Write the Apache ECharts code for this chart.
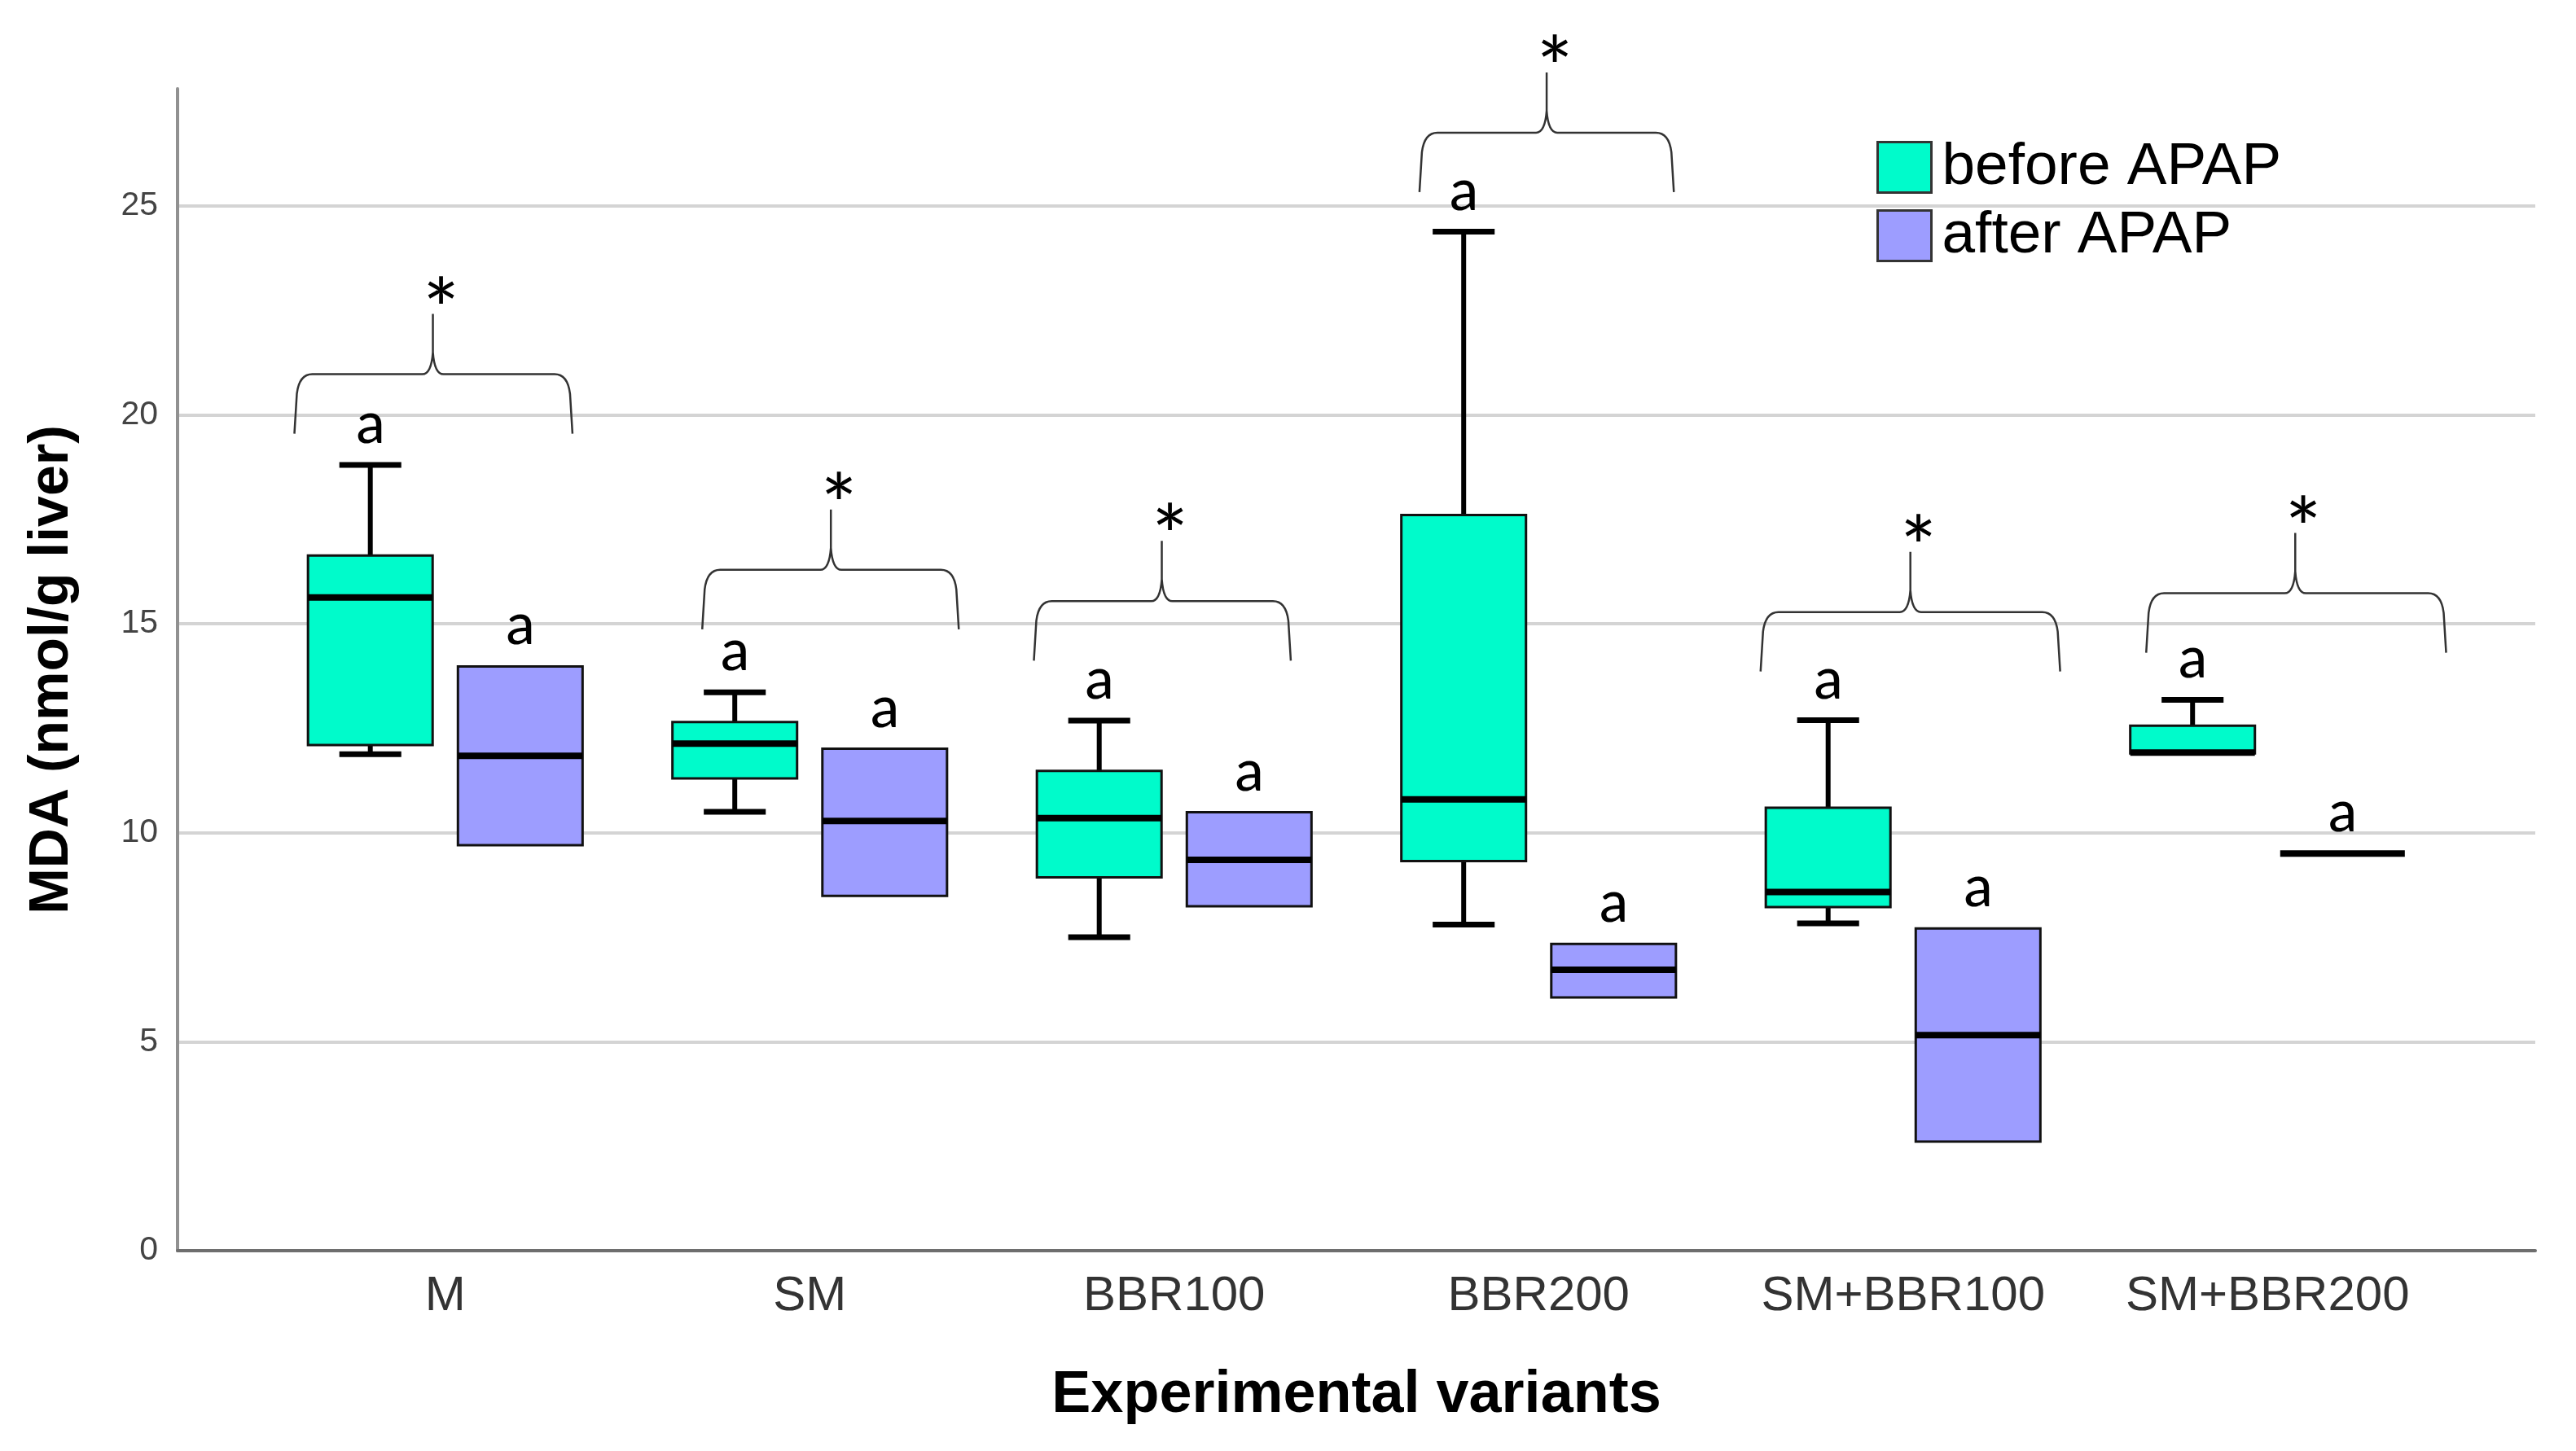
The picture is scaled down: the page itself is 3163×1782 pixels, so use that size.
<!DOCTYPE html>
<html>
<head>
<meta charset="utf-8">
<script src="https://cdn.jsdelivr.net/npm/echarts@6/dist/echarts.min.js"></script>
<style>
html,body{margin:0;padding:0;background:#fff;}
#chart{width:3163px;height:1782px;}
</style>
</head>
<body>
<div id="chart"></div>
<script>
// ---------- data ----------
const categories = ['M', 'SM', 'BBR100', 'BBR200', 'SM+BBR100', 'SM+BBR200'];
const seriesNames = ['before APAP', 'after APAP'];

// before APAP: min, Q1, median, Q3, max
const beforeMin    = [11.88, 10.50, 7.50, 7.80, 7.83, 11.90];
const beforeQ1     = [12.10, 11.30, 8.93, 9.32, 8.22, 11.90];
const beforeMedian = [15.63, 12.13, 10.35, 10.80, 8.58, 11.92];
const beforeQ3     = [16.63, 12.65, 11.48, 17.60, 10.60, 12.56];
const beforeMax    = [18.80, 13.36, 12.68, 24.38, 12.69, 13.18];

// after APAP: min, Q1, median, Q3, max
const afterMin    = [9.70, 8.49, 8.24, 6.06, 2.61, 9.50];
const afterQ1     = [9.70, 8.49, 8.24, 6.06, 2.61, 9.50];
const afterMedian = [11.84, 10.28, 9.35, 6.72, 5.16, 9.50];
const afterQ3     = [13.98, 12.01, 10.49, 7.34, 7.71, 9.50];
const afterMax    = [13.98, 12.01, 10.49, 7.34, 7.71, 9.50];

// significance letters above each box
const lettersBefore = ['a', 'a', 'a', 'a', 'a', 'a'];
const lettersAfter  = ['a', 'a', 'a', 'a', 'a', 'a'];

// brace annotations (level in MDA units; ends/tip relative to category, in band units)
const braceLevel = [20.97, 16.29, 15.54, 26.75, 15.28, 15.73];
const braceFrom  = [-0.414, -0.295, -0.385, -0.327, -0.391, -0.333];
const braceTo    = [0.349, 0.409, 0.320, 0.371, 0.431, 0.490];
const braceTip   = [-0.034, 0.058, -0.034, 0.022, 0.020, 0.076];
const braceMark  = ['*', '*', '*', '*', '*', '*'];

const yTicks = [0, 5, 10, 15, 20, 25];

// ---------- styling constants ----------
const BEFORE_COLOR = '#00FBCB';
const AFTER_COLOR = '#9D9DFF';
const BOX_OFFSET = 0.2057;
const BOX_W = 0.342;
const CAP_W = 0.170;
const ANNOT_FONT = 'Carlito, Lato, "Open Sans", sans-serif';
const AXIS_FONT = '"Liberation Sans", Arial, sans-serif';
const Y_MAX = 27.8;

function boxData(mins, q1s, meds, q3s, maxs) {
  return categories.map((c, i) => [i, mins[i], q1s[i], meds[i], q3s[i], maxs[i]]);
}

function boxRenderer(side, fill, letters) {
  return function (params, api) {
    const cat = api.value(0);
    const band = api.size([1, 0])[0];
    const cx = api.coord([cat, 0])[0] + side * BOX_OFFSET * band;
    const half = BOX_W * band / 2;
    const capHalf = CAP_W * band / 2;
    const y = v => api.coord([cat, v])[1];
    const vMin = api.value(1), q1 = api.value(2), med = api.value(3), q3 = api.value(4), vMax = api.value(5);
    const children = [];
    if (vMax > q3 + 1e-6) {
      children.push({type: 'line', shape: {x1: cx, y1: y(q3), x2: cx, y2: y(vMax)}, style: {stroke: '#000', lineWidth: 6}});
      children.push({type: 'line', shape: {x1: cx - capHalf, y1: y(vMax), x2: cx + capHalf, y2: y(vMax)}, style: {stroke: '#000', lineWidth: 7}});
    }
    if (vMin < q1 - 1e-6) {
      children.push({type: 'line', shape: {x1: cx, y1: y(q1), x2: cx, y2: y(vMin)}, style: {stroke: '#000', lineWidth: 6}});
      children.push({type: 'line', shape: {x1: cx - capHalf, y1: y(vMin), x2: cx + capHalf, y2: y(vMin)}, style: {stroke: '#000', lineWidth: 7}});
    }
    if (q3 > q1 + 1e-6) {
      children.push({type: 'rect', shape: {x: cx - half, y: y(q3), width: 2 * half, height: y(q1) - y(q3)},
        style: {fill: fill, stroke: '#111', lineWidth: 3}});
    }
    children.push({type: 'line', shape: {x1: cx - half, y1: y(med), x2: cx + half, y2: y(med)}, style: {stroke: '#000', lineWidth: 8}});
    children.push({type: 'text', x: cx, y: y(vMax) - 46,
      style: {text: letters[params.dataIndex], fontSize: 76, fontFamily: ANNOT_FONT, fill: '#000',
        align: 'center', verticalAlign: 'middle', textAlign: 'center', textVerticalAlign: 'middle'}});
    return {type: 'group', children: children};
  };
}

function braceRenderer(params, api) {
  const cat = api.value(0);
  const band = api.size([1, 0])[0];
  const c = api.coord([cat, api.value(1)]);
  const cx = c[0], yl = c[1];
  const xl = cx + api.value(2) * band;
  const xr = cx + api.value(3) * band;
  const xt = cx + api.value(4) * band;
  const yEnd = yl + 73, yTip = yl - 74;
  const d = [
    'M', xl, yEnd,
    'L', xl + 3, yl + 24,
    'Q', xl + 6, yl, xl + 22, yl,
    'L', xt - 13, yl,
    'Q', xt - 2, yl, xt, yl - 27,
    'L', xt, yTip,
    'M', xt, yl - 27,
    'Q', xt + 2, yl, xt + 13, yl,
    'L', xr - 22, yl,
    'Q', xr - 6, yl, xr - 3, yl + 24,
    'L', xr, yEnd
  ].join(' ');
  return {type: 'group', children: [
    {type: 'path', shape: {pathData: d}, style: {fill: 'none', stroke: '#333', lineWidth: 2.5}},
    {type: 'text', x: xt + 10, y: yTip + 4,
      style: {text: braceMark[params.dataIndex], fontSize: 112, fontFamily: ANNOT_FONT, fill: '#000',
        align: 'center', verticalAlign: 'middle', textAlign: 'center', textVerticalAlign: 'middle'}}
  ]};
}

const chart = echarts.init(document.getElementById('chart'), null, {renderer: 'canvas'});
chart.setOption({
  animation: false,
  backgroundColor: '#fff',
  legend: {
    orient: 'vertical', left: 2304, top: 169, padding: 0,
    itemWidth: 66, itemHeight: 62, itemGap: 11, icon: 'rect',
    textStyle: {fontSize: 73, fontFamily: AXIS_FONT, color: '#000', padding: [0, 0, 0, 8]},
    data: [
      {name: seriesNames[0], itemStyle: {color: BEFORE_COLOR, borderColor: '#333', borderWidth: 3}},
      {name: seriesNames[1], itemStyle: {color: AFTER_COLOR, borderColor: '#333', borderWidth: 3}}
    ]
  },
  grid: [
    {left: 218, right: 50, top: 109, bottom: 246},
    {left: 323, right: 155, top: 109, bottom: 246}
  ],
  xAxis: [
    {
      type: 'value', gridIndex: 0, min: 0, max: 1,
      axisLine: {show: true, lineStyle: {color: '#6e6e6e', width: 4}},
      axisTick: {show: false}, axisLabel: {show: false}, splitLine: {show: false},
      name: 'Experimental variants', nameLocation: 'middle', nameGap: 142,
      nameTextStyle: {fontSize: 72, fontWeight: 'bold', fontFamily: AXIS_FONT, color: '#000'}
    },
    {
      type: 'category', gridIndex: 1, data: categories, boundaryGap: true,
      axisLine: {show: false}, axisTick: {show: false}, splitLine: {show: false},
      axisLabel: {interval: 0, fontSize: 60, fontFamily: AXIS_FONT, color: '#333', margin: 26}
    }
  ],
  yAxis: [
    {
      type: 'value', gridIndex: 0, min: yTicks[0], max: Y_MAX, interval: yTicks[1] - yTicks[0],
      axisLine: {show: true, lineStyle: {color: '#919191', width: 4}},
      axisTick: {show: false},
      axisLabel: {fontSize: 41, fontFamily: AXIS_FONT, color: '#444', margin: 24, showMaxLabel: false,
        formatter: v => (yTicks.indexOf(v) >= 0 ? String(v) : '')},
      splitLine: {show: true, showMaxLine: false, showMinLine: false, lineStyle: {color: '#d4d4d4', width: 4}},
      name: 'MDA (nmol/g liver)', nameLocation: 'middle', nameGap: 120,
      nameTextStyle: {fontSize: 68, fontWeight: 'bold', fontFamily: AXIS_FONT, color: '#000'}
    },
    {
      type: 'value', gridIndex: 1, min: yTicks[0], max: Y_MAX, show: false, splitLine: {show: false}
    }
  ],
  series: [
    {
      name: seriesNames[0], type: 'custom', xAxisIndex: 1, yAxisIndex: 1,
      itemStyle: {color: BEFORE_COLOR, borderColor: '#333'},
      encode: {x: 0, y: [1, 2, 3, 4, 5]},
      renderItem: boxRenderer(-1, BEFORE_COLOR, lettersBefore),
      data: boxData(beforeMin, beforeQ1, beforeMedian, beforeQ3, beforeMax), z: 3
    },
    {
      name: seriesNames[1], type: 'custom', xAxisIndex: 1, yAxisIndex: 1,
      itemStyle: {color: AFTER_COLOR, borderColor: '#333'},
      encode: {x: 0, y: [1, 2, 3, 4, 5]},
      renderItem: boxRenderer(1, AFTER_COLOR, lettersAfter),
      data: boxData(afterMin, afterQ1, afterMedian, afterQ3, afterMax), z: 3
    },
    {
      name: 'significance', type: 'custom', xAxisIndex: 1, yAxisIndex: 1, clip: false, silent: true,
      encode: {x: 0, y: 1},
      renderItem: braceRenderer,
      data: categories.map((c, i) => [i, braceLevel[i], braceFrom[i], braceTo[i], braceTip[i]]), z: 4
    }
  ]
});
</script>
</body>
</html>
